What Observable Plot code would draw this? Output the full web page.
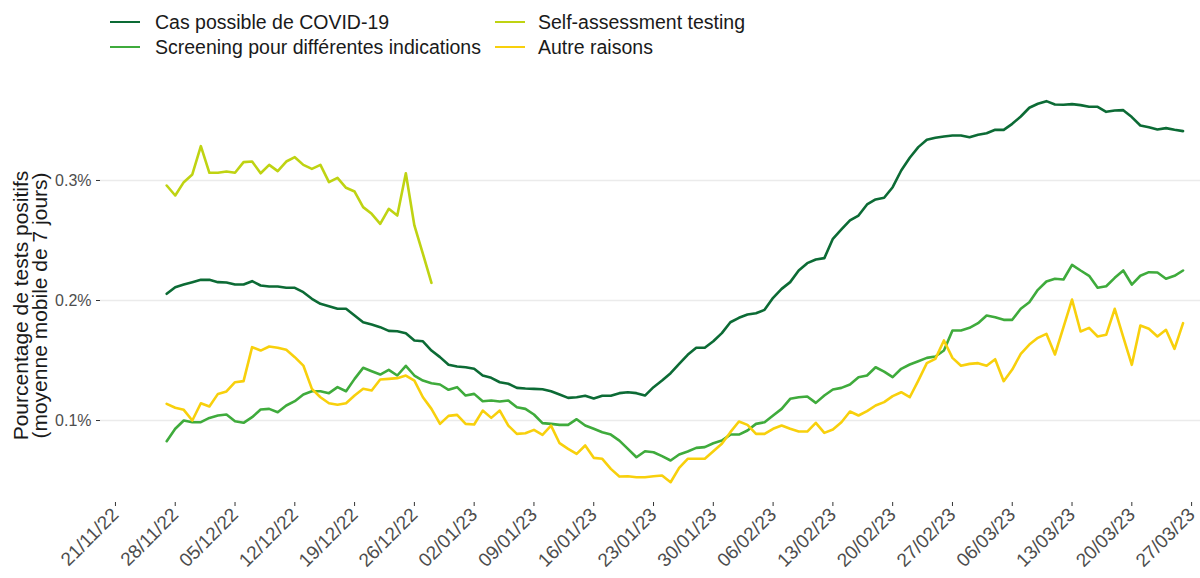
<!DOCTYPE html>
<html><head><meta charset="utf-8">
<script src="https://cdn.jsdelivr.net/npm/d3@7"></script>
<script src="https://cdn.jsdelivr.net/npm/@observablehq/plot@0.6"></script>
<style>
body{margin:0;background:#fff;font-family:"Liberation Sans",Arial,sans-serif;}
#wrap{position:relative;width:1200px;height:578px;overflow:hidden;background:#fff}
#legend{position:relative;height:70px}
.item{position:absolute;display:flex;align-items:center;font-size:19.5px;line-height:22px;color:#1a1a1a;white-space:nowrap}
.key{width:30px;height:2.6px;margin-right:15px}
svg{display:block}
</style></head><body><div id="wrap"><div id="legend"></div><div id="chart"></div></div>
<script>
// Series names and colours
const seriesNames = ["Cas possible de COVID-19", "Screening pour différentes indications", "Self-assessment testing", "Autre raisons"];
const seriesColors = ["#0c6b35", "#3fab3c", "#bfd312", "#f8d00c"];
const startDate = "2022-11-27"; // first daily value for every series

// Daily values (% positive tests, 7-day moving average)
const casPossible = [
0.2056,0.2111,0.2133,0.2153,0.2172,0.2172,0.2153,0.2150,0.2133,0.2133,
0.2161,0.2125,0.2117,0.2117,0.2106,0.2106,0.2069,0.2014,0.1972,0.1953,
0.1931,0.1931,0.1875,0.1819,0.1800,0.1778,0.1747,0.1744,0.1728,0.1667,
0.1660,0.1583,0.1528,0.1464,0.1450,0.1444,0.1431,0.1375,0.1356,0.1319,
0.1306,0.1272,0.1267,0.1264,0.1261,0.1244,0.1217,0.1189,0.1194,0.1206,
0.1183,0.1206,0.1206,0.1228,0.1236,0.1228,0.1208,0.1278,0.1333,0.1394,
0.1472,0.1547,0.1606,0.1606,0.1660,0.1728,0.1819,0.1856,0.1883,0.1894,
0.1922,0.2022,
0.2097,0.2153,0.2250,0.2311,0.2342,0.2353,0.2514,0.2592,0.2667,0.2708,
0.2800,0.2842,0.2856,0.2944,0.3083,0.3189,0.3278,0.3339,0.3356,0.3367,
0.3375,0.3375,0.3361,0.3381,0.3394,0.3422,0.3422,0.3472,0.3533,0.3606,
0.3639,0.3661,0.3633,0.3631,0.3636,0.3628,0.3614,0.3614,0.3572,0.3583,
0.3586,0.3528,0.3458,0.3444,0.3425,0.3436,0.3422,0.3411];

const screening = [
0.0828,0.0931,0.1000,0.0986,0.0986,0.1022,0.1042,0.1050,0.0994,0.0981,
0.1028,0.1092,0.1097,0.1069,0.1125,0.1161,0.1217,0.1244,0.1244,0.1228,
0.1278,0.1244,0.1347,0.1439,0.1411,0.1383,0.1422,0.1375,0.1456,0.1375,
0.1333,0.1311,0.1300,0.1256,0.1278,0.1208,0.1222,0.1161,0.1167,0.1158,
0.1167,0.1111,0.1097,0.1050,0.0978,0.0972,0.0964,0.0964,0.1011,0.0958,
0.0931,0.0903,0.0883,0.0833,0.0764,0.0694,0.0744,0.0736,0.0703,0.0667,
0.0717,0.0742,0.0772,0.0778,0.0811,0.0833,0.0883,0.0883,0.0917,0.0972,
0.0986,0.1042,
0.1097,0.1181,0.1194,0.1200,0.1147,0.1208,0.1258,0.1272,0.1300,0.1361,
0.1375,0.1444,0.1408,0.1361,0.1431,0.1467,0.1494,0.1522,0.1533,0.1583,
0.1750,0.1750,0.1772,0.1811,0.1875,0.1861,0.1839,0.1839,0.1931,0.1986,
0.2089,0.2158,0.2181,0.2175,0.2297,0.2250,0.2206,0.2106,0.2119,0.2189,
0.2250,0.2133,0.2206,0.2236,0.2233,0.2181,0.2206,0.2250];

const selfAssessment = [
0.2958,0.2875,0.2986,0.3050,0.3286,0.3064,0.3064,0.3075,0.3064,0.3153,
0.3158,0.3060,0.3130,0.3078,0.3158,0.3194,0.3130,0.3097,0.3130,0.2986,
0.3022,0.2939,0.2908,0.2778,0.2722,0.2639,0.2764,0.2708,0.3060,0.2625,
0.2389,0.2147];

const autreRaisons = [
0.1139,0.1106,0.1089,0.1000,0.1144,0.1117,0.1222,0.1242,0.1319,0.1328,
0.1611,0.1583,0.1617,0.1606,0.1589,0.1528,0.1458,0.1264,0.1194,0.1144,
0.1131,0.1144,0.1208,0.1264,0.1250,0.1342,0.1347,0.1353,0.1375,0.1333,
0.1194,0.1097,0.0972,0.1039,0.1047,0.0972,0.0967,0.1083,0.1022,0.1083,
0.0958,0.0889,0.0894,0.0922,0.0881,0.0958,0.0811,0.0764,0.0722,0.0792,
0.0689,0.0681,0.0597,0.0533,0.0536,0.0528,0.0528,0.0536,0.0542,0.0486,
0.0606,0.0681,0.0681,0.0681,0.0744,0.0806,0.0903,0.0992,0.0964,0.0889,
0.0889,0.0931,
0.0958,0.0931,0.0908,0.0908,0.0981,0.0897,0.0925,0.0986,0.1075,0.1042,
0.1078,0.1125,0.1153,0.1203,0.1236,0.1194,0.1333,0.1478,0.1514,0.1667,
0.1522,0.1456,0.1472,0.1478,0.1456,0.1511,0.1328,0.1425,0.1556,0.1633,
0.1689,0.1722,0.1550,0.1778,0.2008,0.1742,0.1772,0.1700,0.1714,0.1931,
0.1694,0.1464,0.1792,0.1764,0.1700,0.1756,0.1597,0.1811];

const xTickLabels = ["21/11/22","28/11/22","05/12/22","12/12/22","19/12/22","26/12/22","02/01/23","09/01/23","16/01/23","23/01/23","30/01/23","06/02/23","13/02/23","20/02/23","27/02/23","06/03/23","13/03/23","20/03/23","27/03/23"];
const yTicks = [0.1, 0.2, 0.3];
const yTitle = "Pourcentage de tests positifs\n(moyenne mobile de 7 jours)";

// Build table
const seriesValues = [casPossible, screening, selfAssessment, autreRaisons];
const t0 = Date.parse(startDate);
const rows = seriesValues.flatMap((vals, s) => vals.map((v, i) => ({
  date: new Date(t0 + i * 864e5), value: v, series: seriesNames[s]
})));
const parseTick = d3.utcParse("%d/%m/%y");
const xTicks = xTickLabels.map(parseTick);

// Legend (HTML)
const legend = document.getElementById("legend");
const legendPos = [[110, 11], [110, 36], [495, 11], [495, 36]];
seriesNames.forEach((name, i) => {
  const it = document.createElement("div");
  it.className = "item";
  it.style.left = legendPos[i][0] + "px";
  it.style.top = legendPos[i][1] + "px";
  const k = document.createElement("span");
  k.className = "key";
  k.style.background = seriesColors[i];
  if (i >= 2) k.style.marginRight = "13px";
  const t = document.createElement("span");
  t.textContent = name;
  it.appendChild(k); it.appendChild(t);
  legend.appendChild(it);
});

const chart = Plot.plot({
  width: 1200, height: 508,
  marginLeft: 100, marginRight: 0, marginTop: 10, marginBottom: 76,
  style: {fontFamily: "Liberation Sans, Arial, sans-serif", background: "#fff", color: "#4d4d4d"},
  x: {type: "utc", domain: [new Date(Date.UTC(2022,10,19,6)), new Date(Date.UTC(2023,2,28,1))]},
  y: {domain: [0.0317, 0.3833]},
  color: {domain: seriesNames, range: seriesColors},
  marks: [
    Plot.gridY(yTicks, {stroke: "#ebebeb", strokeOpacity: 1, strokeWidth: 1.3}),
    Plot.axisY(yTicks, {tickFormat: d => d.toFixed(1) + "%", fontSize: 16, fill: "#4d4d4d", stroke: "#333", tickSize: 4, tickPadding: 5, label: null}),
    Plot.axisX(xTicks, {tickFormat: d3.utcFormat("%d/%m/%y"), tickRotate: -45, fontSize: 19, fill: "#4d4d4d", stroke: "#333", tickSize: 4, tickPadding: 5, label: null}),
    Plot.line(rows, {x: "date", y: "value", z: "series", stroke: "series", strokeWidth: 2.6}),
    Plot.text([yTitle], {text: d => d, frameAnchor: "left", textAnchor: "middle", rotate: -90, dx: -69, dy: 14, fontSize: 21, fill: "#1a1a1a", lineHeight: 0.88})
  ]
});
document.getElementById("chart").appendChild(chart);
</script>
</body></html>
